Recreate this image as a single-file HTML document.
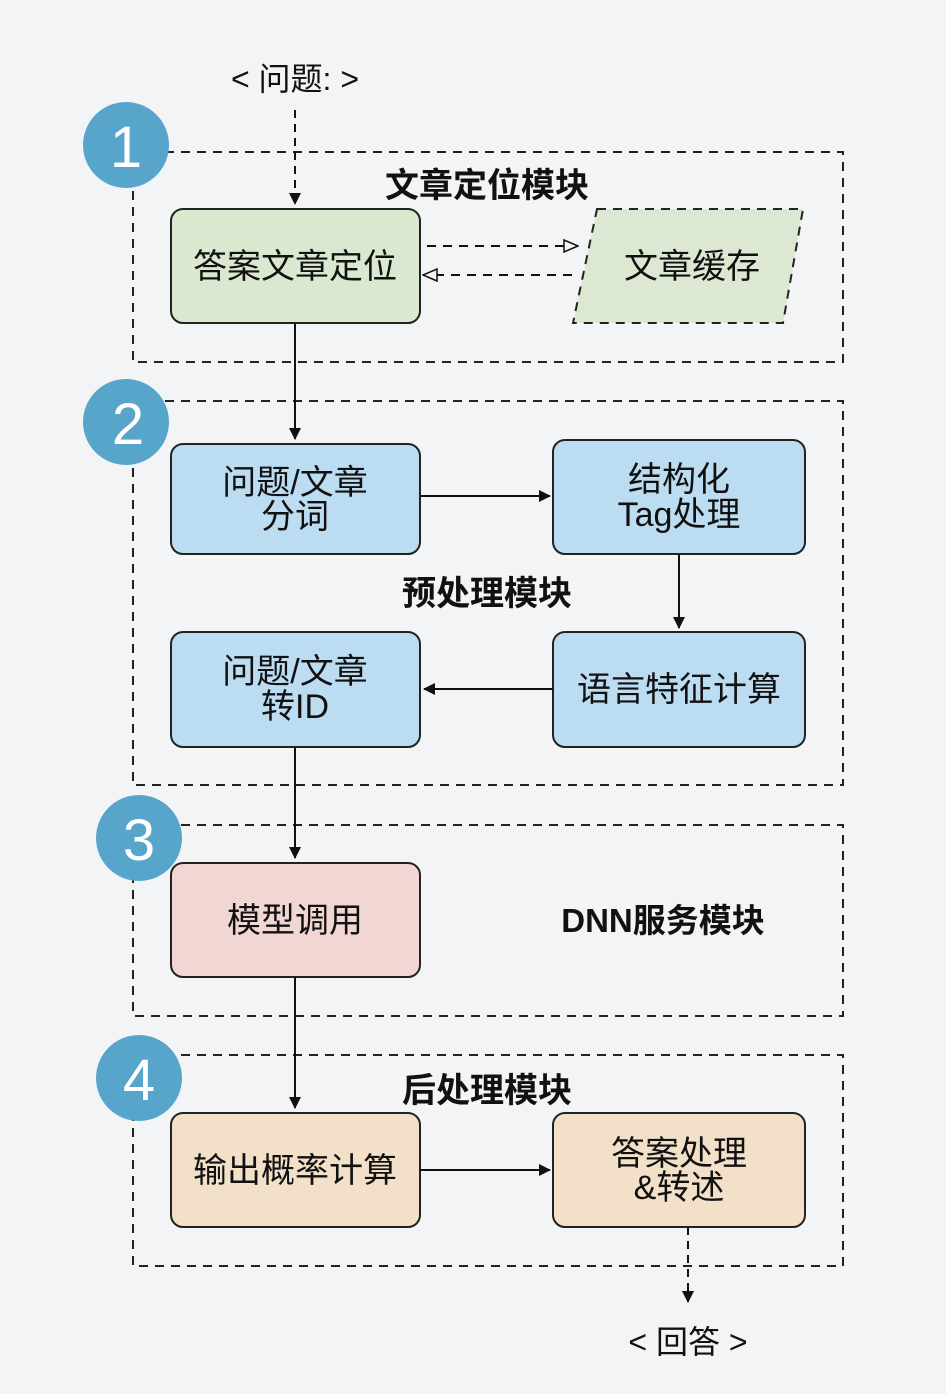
<!DOCTYPE html>
<html><head><meta charset="utf-8"><style>
html,body{margin:0;padding:0;background:#f3f4f6;}
svg{display:block;}
text{font-family:"Liberation Sans","Noto Sans CJK SC",sans-serif;}
</style></head><body>
<svg width="946" height="1394" viewBox="0 0 946 1394" xmlns="http://www.w3.org/2000/svg">
<defs>
<marker id="a" markerWidth="12" markerHeight="12" refX="11" refY="6" orient="auto" markerUnits="userSpaceOnUse">
<path d="M0,0 L12,6 L0,12 z" fill="#111"/></marker>
<marker id="o" markerWidth="16" markerHeight="14" refX="15" refY="7" orient="auto" markerUnits="userSpaceOnUse">
<path d="M1,1 L15,7 L1,13 z" fill="#f3f4f6" stroke="#111" stroke-width="1.5"/></marker>
</defs>
<rect width="946" height="1394" fill="#f3f4f6"/>
<g fill="none" stroke="#222" stroke-width="2" stroke-dasharray="9,7">
<rect x="133" y="152" width="710" height="210"/>
<rect x="133" y="401" width="710" height="384"/>
<rect x="133" y="825" width="710" height="191"/>
<rect x="133" y="1055" width="710" height="211"/>
</g>
<text x="295" y="90" font-size="32" text-anchor="middle" fill="#111">&lt; 问题: &gt;</text>
<line x1="295" y1="110" x2="295" y2="204" stroke="#111" stroke-width="2" stroke-dasharray="8,6" marker-end="url(#a)"/>
<g fill="#fff" text-anchor="middle">
<circle cx="126" cy="145" r="43" fill="#58a5cc"/><text x="126" y="167" font-size="58">1</text>
<circle cx="126" cy="422" r="43" fill="#58a5cc"/><text x="128" y="444" font-size="58">2</text>
<circle cx="139" cy="838" r="43" fill="#58a5cc"/><text x="139" y="860" font-size="58">3</text>
<circle cx="139" cy="1078" r="43" fill="#58a5cc"/><text x="139" y="1100" font-size="58">4</text>
</g>
<g font-size="34" font-weight="bold" fill="#111" text-anchor="middle">
<text x="487" y="197">文章定位模块</text>
<text x="487" y="605">预处理模块</text>
<text x="663" y="932" font-size="33">DNN服务模块</text>
<text x="487" y="1102">后处理模块</text>
</g>
<g stroke="#222" stroke-width="2">
<rect x="171" y="209" width="249" height="114" rx="12" fill="#dbe8d0"/>
<path d="M597,209 L803,209 L783,323 L573,323 z" fill="#dde8d3" stroke-dasharray="9,7"/>
<rect x="171" y="444" width="249" height="110" rx="12" fill="#bcdcf2"/>
<rect x="553" y="440" width="252" height="114" rx="12" fill="#bcdcf2"/>
<rect x="171" y="632" width="249" height="115" rx="12" fill="#bcdcf2"/>
<rect x="553" y="632" width="252" height="115" rx="12" fill="#bcdcf2"/>
<rect x="171" y="863" width="249" height="114" rx="12" fill="#f2d6d3"/>
<rect x="171" y="1113" width="249" height="114" rx="12" fill="#f2e0c9"/>
<rect x="553" y="1113" width="252" height="114" rx="12" fill="#f2e0c9"/>
</g>
<g stroke="#111" stroke-width="2" fill="none">
<line x1="427" y1="246" x2="578" y2="246" stroke-dasharray="9,7" marker-end="url(#o)"/>
<line x1="572" y1="275" x2="423" y2="275" stroke-dasharray="9,7" marker-end="url(#o)"/>
<line x1="295" y1="323" x2="295" y2="439" marker-end="url(#a)"/>
<line x1="420" y1="496" x2="550" y2="496" marker-end="url(#a)"/>
<line x1="679" y1="554" x2="679" y2="628" marker-end="url(#a)"/>
<line x1="553" y1="689" x2="424" y2="689" marker-end="url(#a)"/>
<line x1="295" y1="747" x2="295" y2="858" marker-end="url(#a)"/>
<line x1="295" y1="977" x2="295" y2="1108" marker-end="url(#a)"/>
<line x1="420" y1="1170" x2="550" y2="1170" marker-end="url(#a)"/>
<line x1="688" y1="1227" x2="688" y2="1302" stroke-dasharray="8,6" marker-end="url(#a)"/>
</g>
<g font-size="34" fill="#111" text-anchor="middle">
<text x="295" y="278">答案文章定位</text>
<text x="692" y="278">文章缓存</text>
<text x="295" y="494">问题/文章</text>
<text x="295" y="528">分词</text>
<text x="679" y="491">结构化</text>
<text x="679" y="526">Tag处理</text>
<text x="295" y="683">问题/文章</text>
<text x="295" y="718">转ID</text>
<text x="679" y="701">语言特征计算</text>
<text x="295" y="932">模型调用</text>
<text x="295" y="1182">输出概率计算</text>
<text x="679" y="1165">答案处理</text>
<text x="679" y="1199">&amp;转述</text>
<text x="688" y="1353" font-size="32">&lt; 回答 &gt;</text>
</g>
</svg>
</body></html>
